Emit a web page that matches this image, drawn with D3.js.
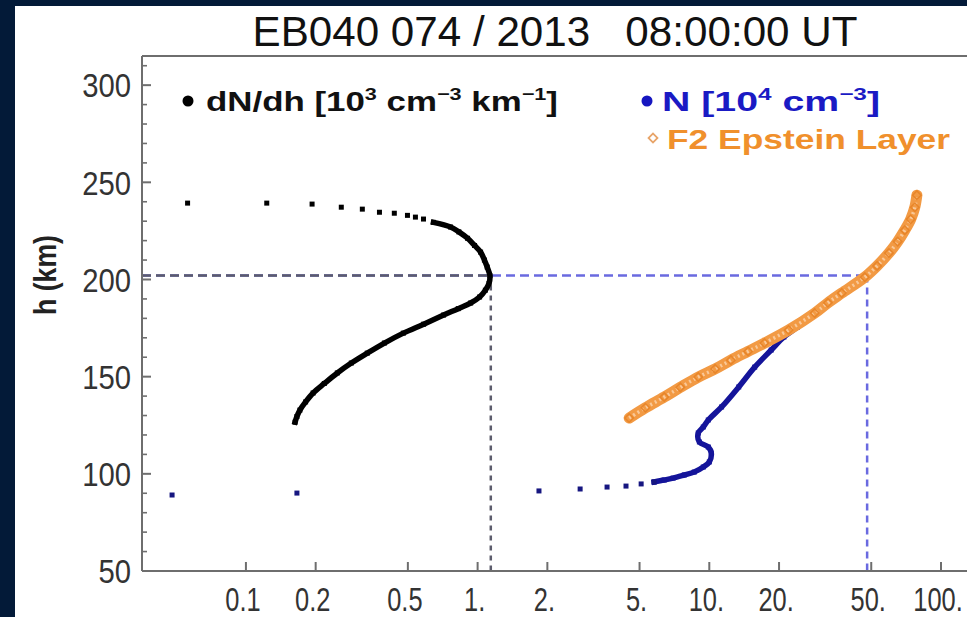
<!DOCTYPE html>
<html><head><meta charset="utf-8">
<script src="https://cdn.jsdelivr.net/npm/d3@7"></script>
<style>
html,body{margin:0;padding:0;background:#031a38;}
svg{display:block;}
text{font-family:"Liberation Sans",Arial,sans-serif;white-space:pre;}
</style>
</head><body>
<svg id="chart" width="967" height="617"></svg>
<script>
// ---------------- data ----------------
const titleText = "EB040 074 / 2013   08:00:00 UT";
const yLabel = "h (km)";
const xTickValues = [0.1, 0.2, 0.5, 1, 2, 5, 10, 20, 50, 100];
const xTickLabels = ["0.1", "0.2", "0.5", "1.", "2.", "5.", "10.", "20.", "50.", "100."];
const yTickValues = [50, 100, 150, 200, 250, 300];
const yMinorTicks = [60, 70, 80, 90, 110, 120, 130, 140, 160, 170, 180, 190, 210, 220, 230, 240, 260, 270, 280, 290, 310];

// dN/dh [10^3 cm^-3 km^-1] : continuous part (h km, value)
const dndhCurveH = [126.6, 129.5, 132.8, 137, 141.6, 146.5, 151.9, 157, 162.1, 167.3, 172.4, 177, 181.7, 185, 187.9, 191, 194.5, 198, 202, 206.4, 210, 214.1, 217.5, 221.2, 224.5, 227.0, 229.4];
const dndhCurveV = [0.163, 0.166, 0.171, 0.181, 0.195, 0.218, 0.248, 0.285, 0.334, 0.396, 0.478, 0.585, 0.713, 0.825, 0.933, 1.02, 1.08, 1.12, 1.13, 1.10, 1.07, 1.03, 0.97, 0.905, 0.83, 0.764, 0.645];
// dN/dh : separated samples near the top
const dndhTopH = [231.1, 232.1, 233.0, 234.1, 234.6, 236.2, 237.2, 238.8, 239.3, 239.3];
const dndhTopV = [0.584, 0.539, 0.498, 0.437, 0.377, 0.318, 0.258, 0.193, 0.123, 0.056];

// N [10^4 cm^-3] : separated low samples
const nDotsH = [89.1, 90.1, 91.2, 92.2, 93.2, 93.7, 94.8, 95.8];
const nDotsV = [0.048, 0.166, 1.84, 2.77, 3.62, 4.37, 5.08, 5.78];
// N : continuous part
const nCurveH = [95.8, 96.8, 97.8, 99.4, 100.9, 103.5, 106.1, 110.7, 113.8, 116.4, 121.0, 124.1, 127.7, 134.4, 144.7, 154.9, 163.7, 170.4, 175.5, 182.7, 193.0, 202];
const nCurveV = [5.78, 6.39, 6.98, 7.80, 8.61, 9.42, 10.0, 10.2, 9.90, 9.06, 8.96, 9.42, 9.90, 11.3, 13.4, 15.7, 18.5, 21.0, 24.0, 28.5, 37.3, 48];

// F2 Epstein layer
const epsH = [128.7, 134, 139.5, 144.5, 149.8, 154, 158.5, 163, 167.3, 174.0, 182.7, 188, 193.0, 201.2, 207, 213.6, 219.5, 225.4, 231, 237.2, 243.4];
const epsV = [4.51, 5.3, 6.39, 7.5, 8.96, 10.6, 12.4, 14.7, 17.3, 22.0, 28.5, 32.5, 37.3, 46.9, 53, 59.6, 65, 69.8, 74, 77.1, 78.7];

// peak markers
const hmF2 = 202;
const peakDndh = 1.14;
const nmF2 = 48;

const legendDndh = [["dN/dh [10", 0], ["3", 1], [" cm", 0], ["\u22123", 1], [" km", 0], ["\u22121", 1], ["]", 0]];
const legendN = [["N [10", 0], ["4", 1], [" cm", 0], ["\u22123", 1], ["]", 0]];
const legendEps = "F2 Epstein Layer";

// ---------------- drawing ----------------
const svg = d3.select("#chart");
const W = 967, H = 617;
const pL = 142, pR = 967, pT = 56, pB = 571;

svg.append("rect").attr("x", 0).attr("y", 0).attr("width", W).attr("height", H).attr("fill", "#031a38");
svg.append("rect").attr("x", 15).attr("y", 6).attr("width", W - 15).attr("height", H - 6).attr("fill", "#ffffff");

const x = d3.scaleLog().domain([0.0356, 129.5]).range([pL, pR]);
const y = d3.scaleLinear().domain([50, 315]).range([pB, pT]);

function condense(sel, k) {
  sel.each(function () {
    const len = this.getComputedTextLength();
    d3.select(this).attr("textLength", len * k).attr("lengthAdjust", "spacingAndGlyphs");
  });
}

// title
svg.append("text").attr("x", 555).attr("y", 46).attr("text-anchor", "middle")
  .attr("xml:space", "preserve")
  .attr("font-size", 42).attr("fill", "#111").text(titleText)
  .attr("textLength", 605).attr("lengthAdjust", "spacingAndGlyphs");

// dashed reference lines
const gRef = svg.append("g");
gRef.append("line").attr("x1", pL).attr("x2", x(nmF2)).attr("y1", y(hmF2)).attr("y2", y(hmF2))
  .attr("stroke", "#6a6ae0").attr("stroke-width", 2.5).attr("stroke-dasharray", "9,5");
gRef.append("line").attr("x1", x(nmF2)).attr("x2", x(nmF2)).attr("y1", y(hmF2)).attr("y2", pB)
  .attr("stroke", "#6a6ae0").attr("stroke-width", 2.5).attr("stroke-dasharray", "7,5");
gRef.append("line").attr("x1", pL).attr("x2", x(peakDndh)).attr("y1", y(hmF2)).attr("y2", y(hmF2))
  .attr("stroke", "#5c5c6c").attr("stroke-width", 2.5).attr("stroke-dasharray", "9,5");
gRef.append("line").attr("x1", x(peakDndh)).attr("x2", x(peakDndh)).attr("y1", y(hmF2)).attr("y2", pB)
  .attr("stroke", "#5c5c6c").attr("stroke-width", 2.5).attr("stroke-dasharray", "5,5");

// frame and ticks
const gAx = svg.append("g").attr("stroke", "#6e6e6e").attr("stroke-width", 2);
gAx.append("line").attr("x1", pL).attr("x2", pL).attr("y1", pT).attr("y2", pB);
gAx.append("line").attr("x1", pL).attr("x2", pR).attr("y1", pB).attr("y2", pB);
gAx.append("line").attr("x1", pL).attr("x2", pR).attr("y1", pT).attr("y2", pT);
gAx.selectAll(".ymaj").data(yTickValues).join("line")
  .attr("x1", pL).attr("x2", pL + 9).attr("y1", d => y(d)).attr("y2", d => y(d));
gAx.selectAll(".ymin").data(yMinorTicks).join("line")
  .attr("x1", pL).attr("x2", pL + 5).attr("y1", d => y(d)).attr("y2", d => y(d)).attr("stroke-width", 1.6);
gAx.selectAll(".xmaj").data(xTickValues).join("line")
  .attr("x1", d => x(d)).attr("x2", d => x(d)).attr("y1", pB).attr("y2", pB - 9);

// tick labels
const yl = svg.append("g").selectAll("text").data(yTickValues).join("text")
  .attr("x", 131).attr("y", d => y(d)).attr("dy", "0.36em").attr("text-anchor", "end")
  .attr("font-size", 34).attr("fill", "#333").text(d => d);
condense(yl, 0.86);
svg.append("g").selectAll("text").data(xTickValues).join("text")
  .attr("transform", d => `translate(${x(d) - 3},611) scale(0.77,1)`).attr("text-anchor", "middle")
  .attr("font-size", 33).attr("fill", "#333").text((d, i) => xTickLabels[i]);

// y axis title
const yt = svg.append("text").attr("transform", "translate(56,275) rotate(-90)").attr("text-anchor", "middle")
  .attr("font-size", 31).attr("font-weight", "bold").attr("fill", "#222").text(yLabel);
condense(yt, 0.86);

// series helpers
const sq = 5;
function squares(g, hs, vs, color) {
  g.selectAll(null).data(hs.map((h, i) => [vs[i], h])).join("rect")
    .attr("x", d => x(d[0]) - sq / 2).attr("y", d => y(d[1]) - sq / 2)
    .attr("width", sq).attr("height", sq).attr("fill", color);
}
const lineGen = d3.line().x(d => x(d[0])).y(d => y(d[1])).curve(d3.curveCatmullRom.alpha(0.5));

// dN/dh
const gD = svg.append("g");
gD.append("path").datum(dndhCurveH.map((h, i) => [dndhCurveV[i], h])).attr("d", lineGen)
  .attr("fill", "none").attr("stroke", "#000").attr("stroke-width", 5.5).attr("stroke-linecap", "square");
squares(gD, dndhCurveH, dndhCurveV, "#000");
squares(gD, dndhTopH, dndhTopV, "#000");

// N
const nColor = "#14149a";
const gN = svg.append("g");
gN.append("path").datum(nCurveH.map((h, i) => [nCurveV[i], h])).attr("d", lineGen)
  .attr("fill", "none").attr("stroke", nColor).attr("stroke-width", 5.5).attr("stroke-linecap", "square");
squares(gN, nCurveH, nCurveV, nColor);
squares(gN, nDotsH, nDotsV, "#161680");

// Epstein layer
const gE = svg.append("g");
const epsPts = epsH.map((h, i) => [epsV[i], h]);
gE.append("path").datum(epsPts).attr("d", lineGen).attr("fill", "none")
  .attr("stroke", "#f29a44").attr("stroke-width", 11).attr("stroke-linecap", "round");
gE.append("path").datum(epsPts).attr("d", lineGen).attr("fill", "none")
  .attr("stroke", "#f9c898").attr("stroke-width", 3.5).attr("stroke-dasharray", "2,3");
const diamond = d3.symbol().type(d3.symbolSquare).size(36);
gE.selectAll(null).data(epsPts).join("path").attr("d", diamond)
  .attr("transform", d => `translate(${x(d[0])},${y(d[1])}) rotate(45)`)
  .attr("fill", "none").attr("stroke", "#e8862a").attr("stroke-width", 1.5);

// legend
function richText(xp, yp, parts, color, size) {
  const t = svg.append("text").attr("x", xp).attr("y", yp).attr("font-size", size)
    .attr("font-weight", "bold").attr("fill", color);
  let raised = false;
  parts.forEach(([s, sup]) => {
    const ts = t.append("tspan").text(s);
    if (sup && !raised) { ts.attr("dy", -11).attr("font-size", size * 0.62); raised = true; }
    else if (sup) { ts.attr("font-size", size * 0.62); }
    else if (!sup && raised) { ts.attr("dy", 11); raised = false; }
  });
  return t;
}
svg.append("circle").attr("cx", 188).attr("cy", 101).attr("r", 5.5).attr("fill", "#000");
richText(206, 111, legendDndh, "#111", 28).attr("textLength", 352).attr("lengthAdjust", "spacingAndGlyphs");
svg.append("circle").attr("cx", 647).attr("cy", 101).attr("r", 5.5).attr("fill", "#1616c0");
richText(662, 111, legendN, "#1a1ac4", 28).attr("textLength", 218).attr("lengthAdjust", "spacingAndGlyphs");
svg.append("path").attr("d", d3.symbol().type(d3.symbolSquare).size(40)())
  .attr("transform", "translate(653,138) rotate(45)").attr("fill", "none").attr("stroke", "#e8a468").attr("stroke-width", 1.8);
svg.append("text").attr("x", 667).attr("y", 149).attr("font-size", 28).attr("font-weight", "bold")
  .attr("fill", "#f0902c").text(legendEps).attr("textLength", 283).attr("lengthAdjust", "spacingAndGlyphs");
</script>
</body></html>
